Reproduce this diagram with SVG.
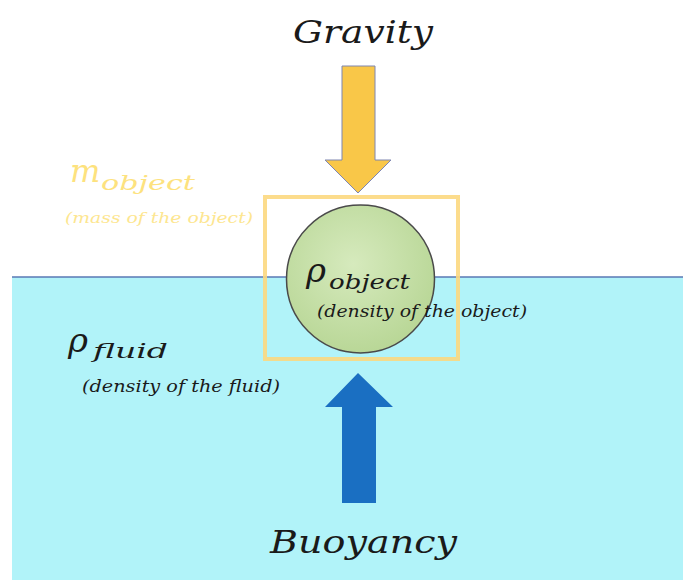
<svg xmlns="http://www.w3.org/2000/svg" width="683" height="580" viewBox="0 0 683 580">
<style>
.t{font-family:"DejaVu Serif","Liberation Serif",serif;font-style:italic;fill:#1a1a1a}
.y{fill:#fde27e}
</style>
<defs>
<radialGradient id="g" cx="0.45" cy="0.4" r="0.6">
<stop offset="0" stop-color="#d6eabd"/>
<stop offset="1" stop-color="#b9d797"/>
</radialGradient>
</defs>
<rect x="0" y="0" width="683" height="580" fill="#ffffff"/>
<g id="water">
<rect x="12" y="277" width="671" height="303" fill="#b1f3f9"/>
<line x1="12" y1="277" x2="683" y2="277" stroke="#5a78b4" stroke-width="1.5"/>
</g>
<g id="connectors">
<polygon id="gravity-arrow" points="342,66 375,66 375,160 391,160 358,193 325,160 342,160" fill="#f9c748" stroke="#7f86b0" stroke-width="1"/>
<polygon id="buoyancy-arrow" points="342,503 376,503 376,407 393,407 358,373 325,407 342,407" fill="#1a6fc2"/>
</g>
<g id="object">
<circle cx="360.5" cy="279" r="74" fill="url(#g)" stroke="#4a4a4a" stroke-width="1.5"/>
<rect x="265" y="197" width="193" height="162" fill="none" stroke="#fcd880" stroke-width="4" opacity="0.9"/>
<text class="t" x="306" y="282" font-size="34">ρ</text>
<text class="t" x="329" y="289" font-size="21" textLength="81" lengthAdjust="spacingAndGlyphs">object</text>
<text class="t" x="317" y="317" font-size="16" textLength="210" lengthAdjust="spacingAndGlyphs">(density of the object)</text>
</g>
<g id="gravity">
<text class="t" x="293" y="43" font-size="32" textLength="140" lengthAdjust="spacingAndGlyphs">Gravity</text>
</g>
<g id="buoyancy">
<text class="t" x="270" y="553" font-size="32" textLength="187" lengthAdjust="spacingAndGlyphs">Buoyancy</text>
</g>
<g id="mass">
<text class="t y" x="70" y="182" font-size="32">m</text>
<text class="t y" x="101" y="190" font-size="21" textLength="94" lengthAdjust="spacingAndGlyphs">object</text>
<text class="t y" x="65" y="223" font-size="14" textLength="188" lengthAdjust="spacingAndGlyphs" style="fill:#fde690">(mass of the object)</text>
</g>
<g id="fluid">
<text class="t" x="68" y="352" font-size="34">ρ</text>
<text class="t" x="93" y="358" font-size="21" textLength="75" lengthAdjust="spacingAndGlyphs">fluid</text>
<text class="t" x="82" y="392" font-size="16" textLength="198" lengthAdjust="spacingAndGlyphs">(density of the fluid)</text>
</g>
</svg>
